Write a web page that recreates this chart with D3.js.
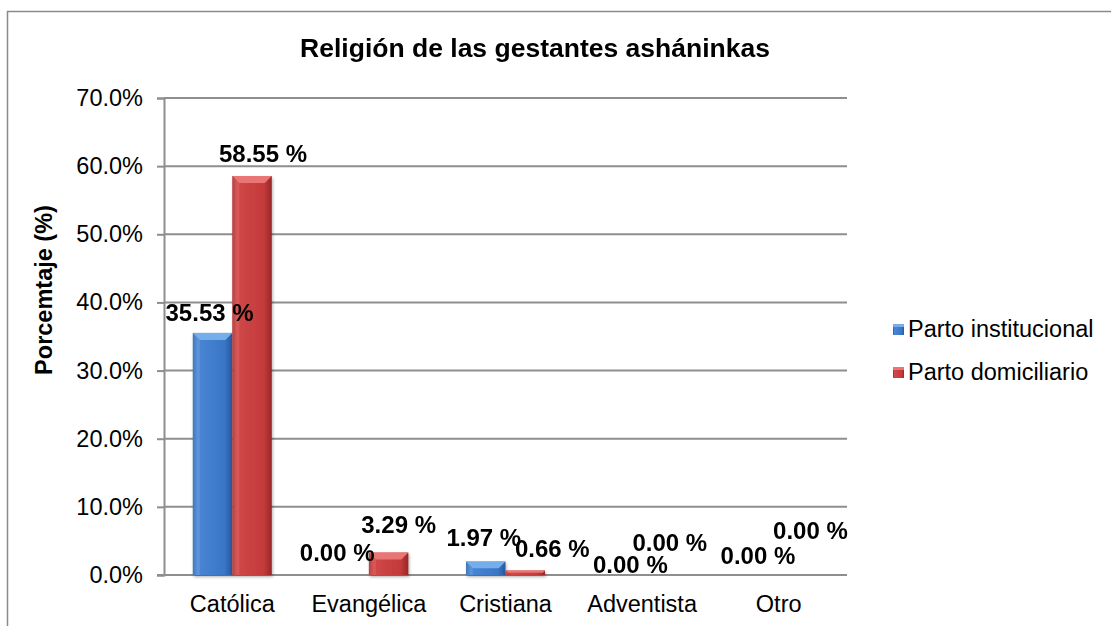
<!DOCTYPE html>
<html>
<head>
<meta charset="utf-8">
<script src="https://cdn.jsdelivr.net/npm/d3@7"></script>
<style>
  body { margin: 0; background: #fff; }
  svg text { font-family: "Liberation Sans", Arial, sans-serif; fill: #000; }
</style>
</head>
<body>
<div id="chart"></div>
<script>
// ---------------------------------------------------------------------------
// Data

const categories = ['Católica', 'Evangélica', 'Cristiana', 'Adventista', 'Otro'];
const seriesNames = ['Parto institucional', 'Parto domiciliario'];
const institucional = [35.53, 0.00, 1.97, 0.00, 0.00];
const domiciliario = [58.55, 3.29, 0.66, 0.00, 0.00];
const yTicks = [0, 10, 20, 30, 40, 50, 60, 70];

// hand-placed label nudges from the original chart [dx, dy] (px)
const nudgeInstitucional = [[-3, -20], [-12, -23], [-2, -24], [8, -11], [-1, -20]];
const nudgeDomiciliario = [[11, -23], [10, -28], [27, -22], [8, -33], [12, -45]];

// ---------------------------------------------------------------------------
// Layout

const width = 1111;
const height = 626;
const plot = { left: 164, right: 847, top: 98, bottom: 575 };
const fontSize = 23.5;

const svg = d3.select('#chart').append('svg')
  .attr('width', width)
  .attr('height', height);

// outer chart border (only left / top are inside the picture)
svg.append('path')
  .attr('d', `M7.5,${height} V11.5 H${width}`)
  .attr('fill', 'none')
  .attr('stroke', '#8a8a8a')
  .attr('stroke-width', 1.5);

const x0 = d3.scaleBand()
  .domain(categories)
  .range([plot.left, plot.right])
  .padding(0);

const barW = x0.bandwidth() * 0.289;
const x1 = d3.scaleBand()
  .domain(seriesNames)
  .range([-barW, barW]);

const y = d3.scaleLinear()
  .domain([0, 70])
  .range([plot.bottom, plot.top]);

// gradients for the bevelled bars
const defs = svg.append('defs');
const palette = {
  'Parto institucional': { edge: '#28579a', main: '#3a76c6', light: '#4a86d4', top: '#76aeec' },
  'Parto domiciliario': { edge: '#962828', main: '#c43a3a', light: '#d04848', top: '#ea7474' }
};
seriesNames.forEach((s, i) => {
  const g = defs.append('linearGradient')
    .attr('id', 'grad' + i)
    .attr('x1', 0).attr('x2', 1).attr('y1', 0).attr('y2', 0);
  g.append('stop').attr('offset', '0%').attr('stop-color', palette[s].edge);
  g.append('stop').attr('offset', '12%').attr('stop-color', palette[s].light);
  g.append('stop').attr('offset', '80%').attr('stop-color', palette[s].main);
  g.append('stop').attr('offset', '100%').attr('stop-color', palette[s].edge);
});
const shadow = defs.append('filter').attr('id', 'shadow')
  .attr('x', '-20%').attr('y', '-5%').attr('width', '140%').attr('height', '115%');
shadow.append('feDropShadow')
  .attr('dx', 1).attr('dy', 2).attr('stdDeviation', 1.5)
  .attr('flood-color', '#000').attr('flood-opacity', 0.3);

// gridlines
svg.append('g')
  .selectAll('line')
  .data(yTicks.slice(1))
  .enter().append('line')
  .attr('x1', plot.left)
  .attr('x2', plot.right)
  .attr('y1', d => y(d))
  .attr('y2', d => y(d))
  .attr('stroke', '#8e8e8e')
  .attr('stroke-width', 2);

// y axis
const yAxis = svg.append('g')
  .attr('transform', `translate(${plot.left},0)`)
  .call(d3.axisLeft(y)
    .tickValues(yTicks)
    .tickSize(7)
    .tickPadding(14)
    .tickFormat(d => d.toFixed(1) + '%'));
yAxis.select('.domain').attr('stroke', '#8e8e8e').attr('stroke-width', 2);
yAxis.selectAll('.tick line').attr('stroke', '#8e8e8e').attr('stroke-width', 2);
yAxis.selectAll('.tick text')
  .attr('font-size', fontSize)
  .attr('font-family', '"Liberation Sans", Arial, sans-serif')
  .attr('fill', '#000');

// x axis line
svg.append('line')
  .attr('x1', plot.left - 7)
  .attr('x2', plot.right)
  .attr('y1', plot.bottom)
  .attr('y2', plot.bottom)
  .attr('stroke', '#8e8e8e')
  .attr('stroke-width', 2);

// category labels
svg.append('g')
  .selectAll('text')
  .data(categories)
  .enter().append('text')
  .attr('x', d => x0(d) + x0.bandwidth() / 2)
  .attr('y', plot.bottom + 37)
  .attr('text-anchor', 'middle')
  .attr('font-size', fontSize)
  .text(d => d);

// bars
const seriesData = [institucional, domiciliario];
const bars = svg.append('g');
seriesNames.forEach((s, si) => {
  const rows = categories.map((c, ci) => ({ cat: c, value: seriesData[si][ci] }))
    .filter(d => d.value > 0);
  const g = bars.append('g').attr('filter', 'url(#shadow)');
  rows.forEach(d => {
    const bx = x0(d.cat) + x0.bandwidth() / 2 + x1(s);
    const by = y(d.value);
    const bh = plot.bottom - by;
    const w = x1.bandwidth();
    const bevel = Math.min(7, bh / 2);
    g.append('rect')
      .attr('x', bx)
      .attr('y', by)
      .attr('width', w)
      .attr('height', bh)
      .attr('fill', `url(#grad${si})`);
    g.append('path')
      .attr('d', `M${bx},${by} H${bx + w} L${bx + w - bevel},${by + bevel} H${bx + bevel} Z`)
      .attr('fill', palette[s].top);
    g.append('path')
      .attr('d', `M${bx},${by} L${bx + bevel},${by + bevel} V${by + bh} H${bx} Z`)
      .attr('fill', palette[s].top)
      .attr('opacity', 0.35);
  });
});

// data labels
const nudges = [nudgeInstitucional, nudgeDomiciliario];
const labels = svg.append('g');
seriesNames.forEach((s, si) => {
  categories.forEach((c, ci) => {
    const v = seriesData[si][ci];
    const cx = x0(c) + x0.bandwidth() / 2 + x1(s) + x1.bandwidth() / 2;
    labels.append('text')
      .attr('x', cx + nudges[si][ci][0])
      .attr('y', y(v) + nudges[si][ci][1] + 8.5)
      .attr('text-anchor', 'middle')
      .attr('font-size', 24)
      .attr('font-weight', 'bold')
      .text(v.toFixed(2) + ' %');
  });
});

// title
svg.append('text')
  .attr('x', 535)
  .attr('y', 57)
  .attr('text-anchor', 'middle')
  .attr('font-size', 26.5)
  .attr('font-weight', 'bold')
  .text('Religión de las gestantes asháninkas');

// y axis title
svg.append('text')
  .attr('transform', 'translate(52,290) rotate(-90)')
  .attr('text-anchor', 'middle')
  .attr('font-size', fontSize)
  .attr('font-weight', 'bold')
  .text('Porcemtaje (%)');

// legend
const legend = svg.append('g')
  .attr('transform', 'translate(893,337)');
seriesNames.forEach((s, i) => {
  const item = legend.append('g').attr('transform', `translate(0,${i * 43})`);
  item.append('rect')
    .attr('x', 0)
    .attr('y', -13)
    .attr('width', 11)
    .attr('height', 11)
    .attr('fill', `url(#grad${i})`);
  item.append('rect')
    .attr('x', 0)
    .attr('y', -13)
    .attr('width', 11)
    .attr('height', 3)
    .attr('fill', palette[s].top);
  item.append('text')
    .attr('x', 15)
    .attr('y', 0)
    .attr('font-size', fontSize)
    .text(s);
});
</script>
</body>
</html>
